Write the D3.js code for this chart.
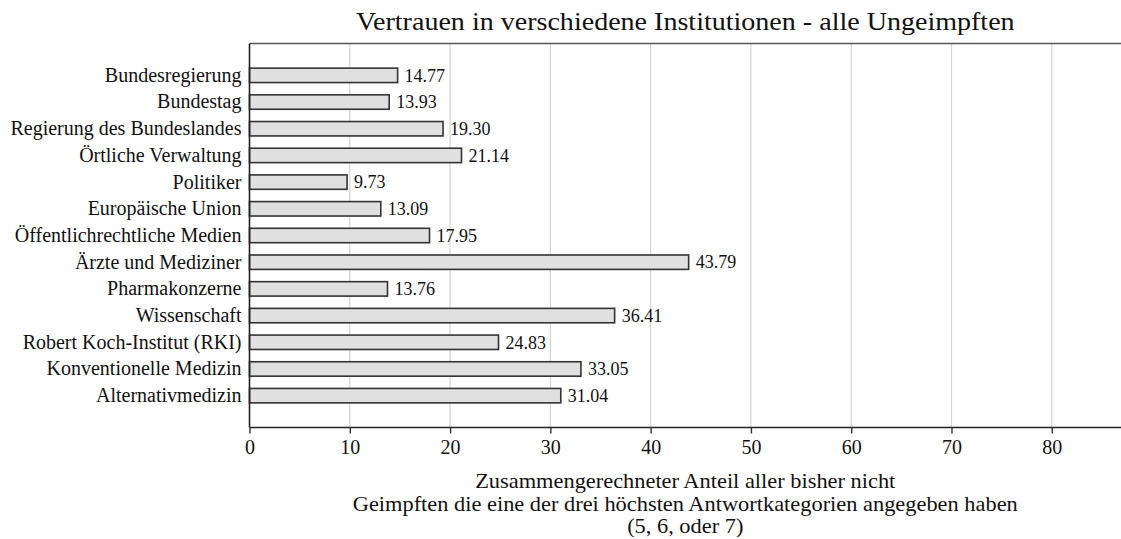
<!DOCTYPE html>
<html><head><meta charset="utf-8">
<script src="https://cdn.jsdelivr.net/npm/d3@7"></script>
<style>body{margin:0;background:#fff}svg{display:block}</style>
</head><body>
<svg id="c" width="1121" height="539"></svg>
<script>
const categories = ["Bundesregierung","Bundestag","Regierung des Bundeslandes","Örtliche Verwaltung","Politiker","Europäische Union","Öffentlichrechtliche Medien","Ärzte und Mediziner","Pharmakonzerne","Wissenschaft","Robert Koch-Institut (RKI)","Konventionelle Medizin","Alternativmedizin"];
const values = [14.77,13.93,19.30,21.14,9.73,13.09,17.95,43.79,13.76,36.41,24.83,33.05,31.04];
const xTicks = [0,10,20,30,40,50,60,70,80];
const title = "Vertrauen in verschiedene Institutionen - alle Ungeimpften";
const xTitle = ["Zusammengerechneter Anteil aller bisher nicht","Geimpften die eine der drei höchsten Antwortkategorien angegeben haben","(5, 6, oder 7)"];

const FONT = "'Liberation Serif', 'Times New Roman', serif";
const svg = d3.select("#c");
const L = 249.5, T = 43.5, B = 427.5, R = 1130;
const x = d3.scaleLinear().domain([0, 87.8]).range([L, R]);
const y = d3.scaleBand().domain(categories).range([T + 18.5, B - 18.5]).paddingInner(0.46).paddingOuter(0.23);

svg.append("g").selectAll("line").data(xTicks.filter(d => d > 0)).join("line")
  .attr("x1", d => x(d)).attr("x2", d => x(d)).attr("y1", T).attr("y2", B)
  .attr("stroke", "#d4d4d4").attr("stroke-width", 1.2);

svg.append("line").attr("x1", L).attr("x2", 1121).attr("y1", T).attr("y2", T).attr("stroke", "#555").attr("stroke-width", 1.5);

svg.append("g").selectAll("rect").data(values).join("rect")
  .attr("x", x(0)).attr("y", (d, i) => y(categories[i]))
  .attr("width", d => x(d) - x(0)).attr("height", y.bandwidth())
  .attr("fill", "#e0e0e0").attr("stroke", "#333").attr("stroke-width", 1.6);

svg.append("g").selectAll("text").data(values).join("text")
  .attr("x", d => x(d) + 7).attr("y", (d, i) => y(categories[i]) + y.bandwidth() / 2)
  .attr("dy", "0.35em").style("font-family", FONT).style("font-size", "18px").style("fill", "#111")
  .text(d => d.toFixed(2));

const xa = svg.append("g").attr("transform", `translate(0,${B})`)
  .call(d3.axisBottom(x).tickValues(xTicks).tickSize(6).tickPadding(6).tickFormat(d3.format("d")));
xa.select(".domain").attr("d", `M${L},0H1121`).attr("stroke", "#222").attr("stroke-width", 1.6);
xa.selectAll(".tick line").attr("stroke", "#333").attr("stroke-width", 1.4);
xa.selectAll(".tick text").style("font-family", FONT).style("font-size", "20px").style("fill", "#111");

const ya = svg.append("g").attr("transform", `translate(${L},0)`)
  .call(d3.axisLeft(y).tickSize(0).tickPadding(8));
ya.select(".domain").attr("d", `M0,${T}V${B}`).attr("stroke", "#222").attr("stroke-width", 1.6);
ya.selectAll(".tick text").style("font-family", FONT).style("font-size", "20px").style("fill", "#111");

const cx = (L + 1121) / 2;
svg.append("text").attr("transform", `translate(${cx},30) scale(1.1,1)`).attr("text-anchor", "middle")
  .style("font-family", FONT).style("font-size", "25.5px").style("fill", "#111").text(title);

svg.append("g").selectAll("text").data(xTitle).join("text")
  .attr("transform", (d, i) => `translate(${cx},${488 + i * 22.5}) scale(1.12,1)`).attr("text-anchor", "middle")
  .style("font-family", FONT).style("font-size", "20px").style("fill", "#111").text(d => d);
</script>
</body></html>
